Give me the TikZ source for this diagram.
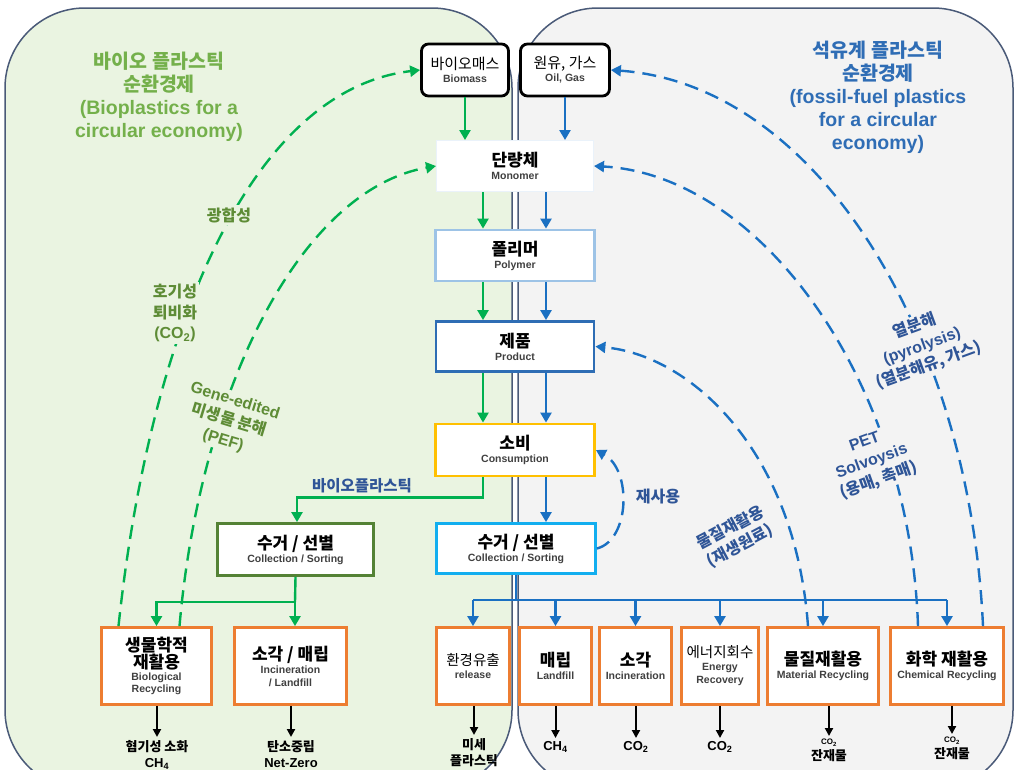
\documentclass[tikz,border=0pt]{standalone}
\usepackage{fontspec}
\setmainfont{Liberation Sans}
\newfontfamily\kr{Noto Sans CJK KR}
\usetikzlibrary{arrows.meta}
\definecolor{regLfill}{HTML}{EAF4E1}
\definecolor{regRfill}{HTML}{F3F3F3}
\definecolor{regline}{HTML}{4A5A78}
\definecolor{gr}{HTML}{00B050}
\definecolor{bu}{HTML}{1A70C2}
\definecolor{orng}{HTML}{ED7D31}
\definecolor{monoc}{HTML}{EAF2FA}
\definecolor{polyc}{HTML}{9DC3E6}
\definecolor{prodc}{HTML}{2E6DB4}
\definecolor{consc}{HTML}{FFC000}
\definecolor{sortbc}{HTML}{12AEEF}
\definecolor{sortgc}{HTML}{548235}
\definecolor{subc}{HTML}{404040}
\definecolor{gtitle}{HTML}{74B04B}
\definecolor{glab}{HTML}{5E8C36}
\definecolor{btitle}{HTML}{2F6DB5}
\definecolor{blab}{HTML}{2F5597}
\newcommand{\boxkb}[1]{{\kr\bfseries\fontsize{17}{20}\selectfont #1}}
\newcommand{\boxkr}[1]{{\kr\fontsize{15}{18}\selectfont #1}}
\newcommand{\boxen}[1]{{\bfseries\fontsize{10.5}{12.5}\selectfont\color{subc}#1}}
\begin{document}
\begin{tikzpicture}[x=1pt,y=-1pt,
  region/.style={draw=regline,line width=1.5pt,rounded corners=80pt},
  cbox/.style={fill=white,line width=2.8pt,align=center,inner sep=1pt,font=\fontsize{10}{13}\selectfont},
  obox/.style={cbox,draw=orng,minimum height=77pt},
  gl/.style={draw=gr,line width=2.4pt},
  bl/.style={draw=bu,line width=2.4pt},
  ga/.style={gl,-{Triangle[length=10pt,width=11pt]}},
  ba/.style={bl,-{Triangle[length=10pt,width=11pt]}},
  gd/.style={ga,dash pattern=on 14pt off 8pt},
  bd/.style={ba,dash pattern=on 14pt off 8pt},
  ka/.style={draw=black,line width=2pt,-{Triangle[length=8pt,width=8pt]}},
  llab/.style={text=glab,font=\fontsize{16}{20.5}\selectfont\bfseries,align=center,fill=regLfill,inner sep=2pt},
  rlab/.style={text=blab,font=\fontsize{16}{20.5}\selectfont\bfseries,align=center,fill=regRfill,inner sep=2pt},
  outt/.style={font=\fontsize{13}{16}\selectfont\bfseries,align=center,inner sep=0pt,anchor=north}
]
\useasboundingbox (0,0) rectangle (1017,769);
\clip (0,0) rectangle (1017,769);
\fill[white] (0,0) rectangle (1017,769);
% regions
\draw[region,fill=regLfill] (5,8) rectangle (512,790);
\draw[region,fill=regRfill] (518,8) rectangle (1013,790);

% titles
\node[text=gtitle,font=\fontsize{19.5}{23}\selectfont\bfseries,align=center] (tL) at (159,97)
  {{\kr 바이오 플라스틱}\\{\kr 순환경제}\\(Bioplastics for a\\circular economy)};
\node[text=btitle,font=\fontsize{19.5}{23}\selectfont\bfseries,align=center] (tR) at (878,97)
  {{\kr 석유계 플라스틱}\\{\kr 순환경제}\\(fossil-fuel plastics\\for a circular\\economy)};

% central boxes
\node[cbox,draw=black,rounded corners=7pt,minimum width=87pt,minimum height=52pt] (biomass) at (465,70)
  {\boxkr{바이오매스}\\\boxen{Biomass}};
\node[cbox,draw=black,rounded corners=7pt,minimum width=89pt,minimum height=52pt] (oil) at (565,70)
  {\boxkr{원유, 가스}\\\boxen{Oil, Gas}};
\node[cbox,draw=monoc,line width=1pt,minimum width=157pt,minimum height=51pt] (monomer) at (515,166)
  {\boxkb{단량체}\\\boxen{Monomer}};
\node[cbox,draw=polyc,minimum width=159pt,minimum height=51pt] (polymer) at (515,255.5)
  {\boxkb{폴리머}\\\boxen{Polymer}};
\node[cbox,draw=prodc,minimum width=158pt,minimum height=50pt] (product) at (515,346.5)
  {\boxkb{제품}\\\boxen{Product}};
\node[cbox,draw=consc,minimum width=159pt,minimum height=52pt] (cons) at (515,450)
  {\boxkb{소비}\\\boxen{Consumption}};
\node[cbox,draw=sortbc,minimum width=159pt,minimum height=50pt] (sortR) at (516,548.5)
  {\boxkb{수거 / 선별}\\\boxen{Collection / Sorting}};
\node[cbox,draw=sortgc,minimum width=156pt,minimum height=52pt] (sortL) at (295.5,549.5)
  {\boxkb{수거 / 선별}\\\boxen{Collection / Sorting}};

% bottom boxes
\node[obox,minimum width=110pt,font=\fontsize{10}{12}\selectfont] (bio) at (156.5,666)
  {\boxkb{생물학적}\\\boxkb{재활용}\\\boxen{Biological}\\\boxen{Recycling}};
\node[obox,minimum width=112pt] (incL) at (290.5,666)
  {\boxkb{소각 / 매립}\\\boxen{Incineration}\\\boxen{/ Landfill}};
\node[obox,minimum width=73pt] (release) at (473,666)
  {{\kr\fontsize{14.5}{17}\selectfont 환경유출}\\\boxen{release}};
\node[obox,minimum width=72pt] (landfill) at (555.5,666)
  {\boxkb{매립}\\\boxen{Landfill}};
\node[obox,minimum width=72pt] (incin) at (635.5,666)
  {\boxkb{소각}\\\boxen{Incineration}};
\node[obox,minimum width=77pt] (energy) at (720,666)
  {{\kr\fontsize{14.5}{17}\selectfont 에너지회수}\\\boxen{Energy}\\\boxen{Recovery}};
\node[obox,minimum width=111pt] (material) at (823,666)
  {\boxkb{물질재활용}\\\boxen{Material Recycling}};
\node[obox,minimum width=113pt] (chemical) at (947,666)
  {\boxkb{화학 재활용}\\\boxen{Chemical Recycling}};

% main flow arrows
\draw[ga] (biomass.south) -- (biomass.south |- monomer.north);
\draw[ba] (oil.south) -- (oil.south |- monomer.north);
\draw[ga] ([xshift=-32pt]monomer.south) -- ([xshift=-32pt]polymer.north);
\draw[ba] ([xshift=31pt]monomer.south) -- ([xshift=31pt]polymer.north);
\draw[ga] ([xshift=-32pt]polymer.south) -- ([xshift=-32pt]product.north);
\draw[ba] ([xshift=31pt]polymer.south) -- ([xshift=31pt]product.north);
\draw[ga] ([xshift=-32pt]product.south) -- ([xshift=-32pt]cons.north);
\draw[ba] ([xshift=31pt]product.south) -- ([xshift=31pt]cons.north);
\draw[ba] ([xshift=31pt]cons.south) -- ([xshift=30pt]sortR.north);
\draw[ga] ([xshift=-32pt]cons.south) -- ++(0,20) coordinate (bend) -| ([xshift=1.5pt]sortL.north);
\node[text=blab,font=\fontsize{15.5}{18}\selectfont\bfseries\kr] (biolab) at (362,486) {바이오플라스틱};

% left collection bus
\coordinate (gbus) at (295,602);
\draw[gl] (sortL.south) -- (gbus);
\draw[ga] (gbus) -| (bio.north);
\draw[ga] (gbus) -- (gbus |- incL.north);

% right collection bus
\coordinate (bbus) at (516,600);
\draw[bl] (sortR.south) -- (bbus);
\draw[bl] (release.north |- bbus) -- (chemical.north |- bbus);
\foreach \n in {release,landfill,incin,energy,material,chemical}
  \draw[ba] (\n.north |- bbus) -- (\n.north);

% dashed loops
\draw[gd] ([xshift=-38pt]bio.north) .. controls (150,330) and (250,90) .. (biomass.west);
\draw[gd] ([xshift=23pt]bio.north) .. controls (200,390) and (300,190) .. (monomer.west);
\draw[bd] ([xshift=36pt]chemical.north) .. controls (970,340) and (820,85) .. (oil.east);
\draw[bd] ([xshift=-29pt]chemical.north) .. controls (910,380) and (760,175) .. (monomer.east);
\draw[bd] ([xshift=-15pt]material.north) .. controls (795,450) and (690,355) .. (product.east);
\draw[bd] (sortR.east) .. controls (630,540) and (632,470) .. (cons.east);

% labels on loops
\node[llab] (l1) at (229,215) {{\kr 광합성}};
\node[llab] (l2) at (175,313) {{\kr 호기성}\\{\kr 퇴비화}\\(CO\textsubscript{2})};
\node[llab,rotate=-17] (l3) at (229,421) {Gene-edited\\{\kr 미생물 분해}\\(PEF)};
\node[rlab,rotate=20] (r1) at (922,346) {{\kr 열분해}\\(pyrolysis)\\{\kr (열분해유, 가스)}};
\node[rlab,rotate=20] (r2) at (872,462) {PET\\Solvoysis\\{\kr (용매, 촉매)}};
\node[rlab,fill=none,rotate=28] (r3) at (735,537) {{\kr 물질재활용}\\{\kr (재생원료)}};
\node[rlab,fill=none] (r4) at (658,497) {{\kr 재사용}};

% outputs
\node[outt] (o1) at (157,740) {{\kr 혐기성 소화}\\CH\textsubscript{4}};
\node[outt] (o2) at (291,740) {{\kr 탄소중립}\\Net-Zero};
\node[outt] (o3) at (474,738) {{\kr 미세}\\{\kr 플라스틱}};
\node[outt] (o4) at (555.5,741) {CH\textsubscript{4}};
\node[outt] (o5) at (636,741) {CO\textsubscript{2}};
\node[outt] (o6) at (720,741) {CO\textsubscript{2}};
\node[outt] (o7) at (829,739) {{\fontsize{8}{9}\selectfont CO\textsubscript{2}}\\{\kr 잔재물}};
\node[outt] (o8) at (952,737) {{\fontsize{8}{9}\selectfont CO\textsubscript{2}}\\{\kr 잔재물}};
\foreach \b/\o in {bio/o1,incL/o2,release/o3,landfill/o4,incin/o5,energy/o6,material/o7,chemical/o8}
  \draw[ka] (\o.north |- \b.south) -- ([yshift=3pt]\o.north);
\end{tikzpicture}
\end{document}
